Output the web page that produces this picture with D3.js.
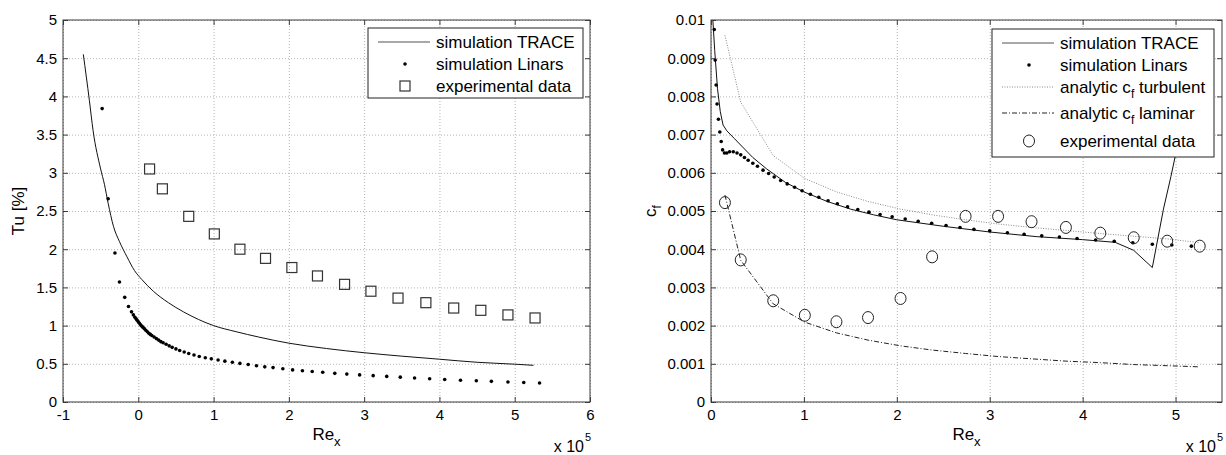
<!DOCTYPE html>
<html>
<head>
  <meta charset="utf-8">
  <title>Tu and cf over Re_x</title>
  <script src="https://d3js.org/d3.v7.min.js"></script>
  <style>
    body { margin: 0; background: #fff; }
    text { font-family: "Liberation Sans", Arial, Helvetica, sans-serif; fill: #000; }
  </style>
</head>
<body>
<div id="chart"></div>
<script>
// ---- left panel: turbulence intensity Tu [%] over Re_x (x 1e5)
const tuTraceRe  = [-0.73, -0.65, -0.6, -0.5, -0.45, -0.4, -0.33, -0.25, -0.15, -0.05, 0.05, 0.2, 0.4, 0.6, 0.8, 1.0, 1.3, 1.6, 2.0, 2.5, 3.0, 3.5, 4.0, 4.5, 5.0, 5.25];
const tuTraceVal = [4.55, 3.95, 3.55, 3.05, 2.85, 2.6, 2.3, 2.1, 1.9, 1.72, 1.6, 1.45, 1.3, 1.18, 1.08, 1.0, 0.92, 0.85, 0.77, 0.7, 0.645, 0.6, 0.56, 0.52, 0.495, 0.48];

const tuLinarsRe  = [-0.48, -0.40, -0.31, -0.25, -0.18, -0.13, -0.09, -0.065, -0.045, -0.03, -0.015, 0, 0.015, 0.03, 0.045, 0.06, 0.08, 0.1, 0.12, 0.14, 0.16, 0.18, 0.21, 0.24, 0.27, 0.3, 0.33, 0.37, 0.41, 0.45, 0.5, 0.55, 0.61, 0.67, 0.74, 0.81, 0.89, 0.97, 1.06, 1.15, 1.25, 1.35, 1.46, 1.57, 1.68, 1.79, 1.92, 2.05, 2.18, 2.31, 2.45, 2.61, 2.77, 2.94, 3.12, 3.3, 3.48, 3.67, 3.87, 4.07, 4.28, 4.49, 4.69, 4.91, 5.12, 5.33];
const tuLinarsVal = [3.84, 2.66, 1.95, 1.57, 1.37, 1.25, 1.18, 1.14, 1.11, 1.09, 1.07, 1.05, 1.03, 1.01, 0.995, 0.98, 0.96, 0.94, 0.92, 0.9, 0.885, 0.87, 0.85, 0.83, 0.81, 0.79, 0.775, 0.755, 0.735, 0.715, 0.695, 0.675, 0.655, 0.635, 0.615, 0.595, 0.58, 0.565, 0.55, 0.535, 0.52, 0.505, 0.49, 0.475, 0.46, 0.45, 0.435, 0.42, 0.41, 0.4, 0.39, 0.375, 0.365, 0.355, 0.345, 0.335, 0.325, 0.315, 0.305, 0.295, 0.285, 0.278, 0.27, 0.262, 0.255, 0.248];

const expRe    = [0.15, 0.32, 0.67, 1.01, 1.35, 1.69, 2.04, 2.38, 2.74, 3.09, 3.45, 3.82, 4.19, 4.55, 4.91, 5.27];
const tuExpVal = [3.05, 2.79, 2.43, 2.2, 2.0, 1.88, 1.76, 1.65, 1.54, 1.45, 1.36, 1.3, 1.23, 1.2, 1.14, 1.1];

const tuTicksX = [-1, 0, 1, 2, 3, 4, 5, 6];
const tuTicksY = [0, 0.5, 1, 1.5, 2, 2.5, 3, 3.5, 4, 4.5, 5];

// ---- right panel: skin friction cf (values x 1e-3)
const cfTraceRe  = [0.02, 0.04, 0.07, 0.1, 0.13, 0.17, 0.25, 0.35, 0.45, 0.6, 0.8, 1.0, 1.25, 1.5, 1.75, 2.0, 2.5, 3.0, 3.5, 4.0, 4.35, 4.55, 4.75, 4.87, 4.95, 5.02, 5.1, 5.2];
const cfTraceVal = [10.0, 9.2, 8.2, 7.6, 7.25, 7.1, 6.9, 6.65, 6.4, 6.1, 5.75, 5.5, 5.25, 5.05, 4.9, 4.77, 4.6, 4.45, 4.33, 4.25, 4.18, 3.97, 3.52, 5.05, 5.9, 6.7, 7.8, 9.5];

const cfLinarsRe  = [0.035, 0.045, 0.055, 0.065, 0.08, 0.095, 0.11, 0.125, 0.145, 0.17, 0.2, 0.24, 0.28, 0.32, 0.36, 0.4, 0.45, 0.5, 0.56, 0.62, 0.68, 0.75, 0.82, 0.9, 0.98, 1.07, 1.16, 1.26, 1.36, 1.47, 1.58, 1.7, 1.82, 1.95, 2.09, 2.23, 2.375, 2.53, 2.68, 2.83, 3.0, 3.19, 3.37, 3.56, 3.75, 3.94, 4.14, 4.34, 4.54, 4.75, 4.96, 5.17];
const cfLinarsVal = [9.75, 8.95, 8.3, 7.8, 7.4, 7.07, 6.82, 6.6, 6.52, 6.52, 6.55, 6.55, 6.52, 6.47, 6.4, 6.33, 6.25, 6.17, 6.07, 5.98, 5.89, 5.8, 5.71, 5.62, 5.53, 5.44, 5.36, 5.27, 5.19, 5.11, 5.04, 4.97, 4.91, 4.85, 4.79, 4.73, 4.68, 4.62, 4.57, 4.52, 4.48, 4.43, 4.39, 4.35, 4.32, 4.28, 4.24, 4.21, 4.17, 4.13, 4.11, 4.08];

const cfTurbVal = [9.6, 7.85, 6.45, 5.85, 5.5, 5.25, 5.05, 4.9, 4.77, 4.66, 4.57, 4.49, 4.41, 4.34, 4.27, 4.17];
const cfLamVal  = [5.42, 3.71, 2.57, 2.09, 1.81, 1.62, 1.47, 1.36, 1.27, 1.19, 1.13, 1.07, 1.03, 0.98, 0.95, 0.92];
const cfExpRe   = [0.15, 0.32, 0.67, 1.01, 1.35, 1.69, 2.04, 2.38, 2.74, 3.09, 3.45, 3.82, 4.19, 4.55, 4.91, 5.26];
const cfExpVal  = [5.22, 3.72, 2.65, 2.27, 2.1, 2.21, 2.71, 3.8, 4.86, 4.86, 4.72, 4.57, 4.42, 4.3, 4.21, 4.08];

const cfTicksX = [0, 1, 2, 3, 4, 5];
const cfTicksY = [0, 0.001, 0.002, 0.003, 0.004, 0.005, 0.006, 0.007, 0.008, 0.009, 0.01];

const FONT = "'Liberation Sans', Arial, Helvetica, sans-serif";
const zip = (a, b, k = 1) => a.map((v, i) => [v, b[i] * k]);
// plain hyphen minus like MATLAB, not the unicode minus of d3.format
const plain = d => String(d);

const svg = d3.select("#chart").append("svg")
  .attr("width", 1226).attr("height", 455);

function drawPanel(p) {
  const width = p.right - p.left;
  const height = p.bottom - p.top;
  const g = svg.append("g").attr("transform", `translate(${p.left},${p.top})`);
  const x = d3.scaleLinear().domain(p.xDomain).range([0, width]);
  const y = d3.scaleLinear().domain(p.yDomain).range([height, 0]);

  const clipId = p.id + "-clip";
  g.append("clipPath").attr("id", clipId)
    .append("rect").attr("width", width).attr("height", height);

  // dotted grid
  g.append("g").attr("class", "grid")
    .attr("transform", `translate(0,${height})`)
    .call(d3.axisBottom(x).tickValues(p.xTicks).tickSize(-height).tickFormat(""));
  g.append("g").attr("class", "grid")
    .call(d3.axisLeft(y).tickValues(p.yTicks).tickSize(-width).tickFormat(""));
  g.selectAll(".grid .domain").remove();
  g.selectAll(".grid line")
    .attr("stroke", "#b4b4b4").attr("stroke-width", 1).attr("stroke-dasharray", "1,2");

  const plot = g.append("g").attr("clip-path", `url(#${clipId})`);
  p.draw(plot, x, y);

  // axes with inward ticks on all sides
  const bottom = g.append("g").attr("transform", `translate(0,${height})`)
    .call(d3.axisBottom(x).tickValues(p.xTicks).tickSize(-5).tickPadding(7).tickSizeOuter(0).tickFormat(plain));
  const left = g.append("g")
    .call(d3.axisLeft(y).tickValues(p.yTicks).tickSize(-5).tickPadding(6).tickSizeOuter(0).tickFormat(p.yFormat));
  const top = g.append("g")
    .call(d3.axisTop(x).tickValues(p.xTicks).tickSize(-5).tickSizeOuter(0).tickFormat(""));
  const rightAx = g.append("g").attr("transform", `translate(${width},0)`)
    .call(d3.axisRight(y).tickValues(p.yTicks).tickSize(-5).tickSizeOuter(0).tickFormat(""));
  [bottom, left, top, rightAx].forEach(a => {
    a.select(".domain").remove();
    a.selectAll("line").attr("stroke", "#3a3a3a");
    a.selectAll("text").attr("font-size", 15).attr("font-family", FONT).attr("fill", "#000");
  });
  g.append("rect").attr("width", width).attr("height", height)
    .attr("fill", "none").attr("stroke", "#3a3a3a").attr("stroke-width", 1);

  // x label Re_x
  const xl = g.append("text").attr("x", width / 2).attr("y", height + 38)
    .attr("text-anchor", "middle").attr("font-size", 17);
  xl.append("tspan").text("Re");
  xl.append("tspan").attr("font-size", 13).attr("dy", 6).text("x");

  // x 10^5 multiplier
  g.append("text").attr("x", width - 6).attr("y", height + 50)
    .attr("text-anchor", "end").attr("font-size", 16).text("x 10");
  g.append("text").attr("x", width - 5).attr("y", height + 39)
    .attr("font-size", 11).text("5");

  p.yLabel(g, height);

  // legend
  const lg = g.append("g").attr("transform", `translate(${p.legend.x - p.left},${p.legend.y - p.top})`);
  lg.append("rect").attr("width", p.legend.w).attr("height", p.legend.h)
    .attr("fill", "#fff").attr("stroke", "#222").attr("stroke-width", 1);
  p.legend.items.forEach(it => {
    const row = lg.append("g").attr("transform", `translate(0,${it.y})`);
    it.symbol(row);
    const t = row.append("text").attr("x", 68).attr("y", 6).attr("font-size", 17);
    it.label(t);
  });
}

const dot = (sel, cx, cy) => sel.append("circle").attr("cx", cx).attr("cy", cy).attr("r", 1.8).attr("fill", "#000");
const square = (sel, cx, cy) => sel.append("rect").attr("x", cx - 5).attr("y", cy - 5).attr("width", 10).attr("height", 10)
  .attr("fill", "none").attr("stroke", "#333").attr("stroke-width", 1.2);
const ring = (sel, cx, cy) => sel.append("ellipse").attr("cx", cx).attr("cy", cy).attr("rx", 5.5).attr("ry", 6)
  .attr("fill", "none").attr("stroke", "#222").attr("stroke-width", 1);
const plainLabel = s => t => t.text(s);
const cfLabel = (a, b) => t => {
  t.append("tspan").text(a + "c");
  t.append("tspan").attr("font-size", 12).attr("dy", 5).text("f");
  t.append("tspan").attr("dy", -5).text(" " + b);
};

// ---------- left panel
drawPanel({
  id: "tu", left: 63, right: 590, top: 20, bottom: 402,
  xDomain: [-1, 6], yDomain: [0, 5], xTicks: tuTicksX, yTicks: tuTicksY,
  yFormat: plain,
  draw(plot, x, y) {
    const line = d3.line().x(d => x(d[0])).y(d => y(d[1])).curve(d3.curveMonotoneX);
    plot.append("path").datum(zip(tuTraceRe, tuTraceVal))
      .attr("d", line).attr("fill", "none").attr("stroke", "#111").attr("stroke-width", 1);
    plot.selectAll(".ld").data(zip(tuLinarsRe, tuLinarsVal)).join("circle")
      .attr("cx", d => x(d[0])).attr("cy", d => y(d[1])).attr("r", 1.8).attr("fill", "#000");
    plot.selectAll(".sq").data(zip(expRe, tuExpVal)).join("rect")
      .attr("x", d => x(d[0]) - 5).attr("y", d => y(d[1]) - 5).attr("width", 10).attr("height", 10)
      .attr("fill", "none").attr("stroke", "#333").attr("stroke-width", 1.2);
  },
  yLabel(g, height) {
    g.append("text").attr("transform", `translate(-39,${height / 2}) rotate(-90)`)
      .attr("text-anchor", "middle").attr("font-size", 17).text("Tu [%]");
  },
  legend: {
    x: 368, y: 28, w: 215, h: 70,
    items: [
      { y: 14, symbol: r => r.append("line").attr("x1", 10).attr("x2", 62).attr("stroke", "#555").attr("stroke-width", 1.2), label: plainLabel("simulation TRACE") },
      { y: 36, symbol: r => dot(r, 37, 0), label: plainLabel("simulation Linars") },
      { y: 58, symbol: r => square(r, 37, 0), label: plainLabel("experimental data") }
    ]
  }
});

// ---------- right panel
drawPanel({
  id: "cf", left: 711, right: 1222, top: 20, bottom: 402,
  xDomain: [0, 5.5], yDomain: [0, 0.01], xTicks: cfTicksX, yTicks: cfTicksY,
  yFormat: d => d === 0 ? "0" : d3.format(".3~f")(d),
  draw(plot, x, y) {
    const k = 0.001;
    const straight = d3.line().x(d => x(d[0])).y(d => y(d[1]));
    plot.append("path").datum(zip(cfExpRe, cfTurbVal, k))
      .attr("d", straight).attr("fill", "none").attr("stroke", "#8a8a8a").attr("stroke-width", 1)
      .attr("stroke-dasharray", "1,1.5");
    plot.append("path").datum(zip(cfExpRe, cfLamVal, k))
      .attr("d", straight).attr("fill", "none").attr("stroke", "#222").attr("stroke-width", 1)
      .attr("stroke-dasharray", "5,2,1,2");
    plot.append("path").datum(zip(cfTraceRe, cfTraceVal, k))
      .attr("d", straight).attr("fill", "none").attr("stroke", "#111").attr("stroke-width", 1);
    plot.selectAll(".ld").data(zip(cfLinarsRe, cfLinarsVal, k)).join("circle")
      .attr("cx", d => x(d[0])).attr("cy", d => y(d[1])).attr("r", 1.8).attr("fill", "#000");
    plot.selectAll(".ex").data(zip(cfExpRe, cfExpVal, k)).join("ellipse")
      .attr("cx", d => x(d[0])).attr("cy", d => y(d[1])).attr("rx", 5.5).attr("ry", 6)
      .attr("fill", "none").attr("stroke", "#222").attr("stroke-width", 1);
  },
  yLabel(g, height) {
    const t = g.append("text").attr("transform", `translate(-55,${height / 2}) rotate(-90)`)
      .attr("text-anchor", "middle").attr("font-size", 17);
    t.append("tspan").text("c");
    t.append("tspan").attr("font-size", 12).attr("dy", 5).text("f");
  },
  legend: {
    x: 992, y: 29, w: 222, h: 128,
    items: [
      { y: 14, symbol: r => r.append("line").attr("x1", 10).attr("x2", 62).attr("stroke", "#555").attr("stroke-width", 1.2), label: plainLabel("simulation TRACE") },
      { y: 36, symbol: r => dot(r, 37, 0), label: plainLabel("simulation Linars") },
      { y: 58, symbol: r => r.append("line").attr("x1", 10).attr("x2", 62).attr("stroke", "#8a8a8a").attr("stroke-dasharray", "1,1.5"), label: cfLabel("analytic ", "turbulent") },
      { y: 84, symbol: r => r.append("line").attr("x1", 10).attr("x2", 62).attr("stroke", "#222").attr("stroke-dasharray", "5,2,1,2"), label: cfLabel("analytic ", "laminar") },
      { y: 112, symbol: r => ring(r, 37, 0), label: plainLabel("experimental data") }
    ]
  }
});
</script>
</body>
</html>
